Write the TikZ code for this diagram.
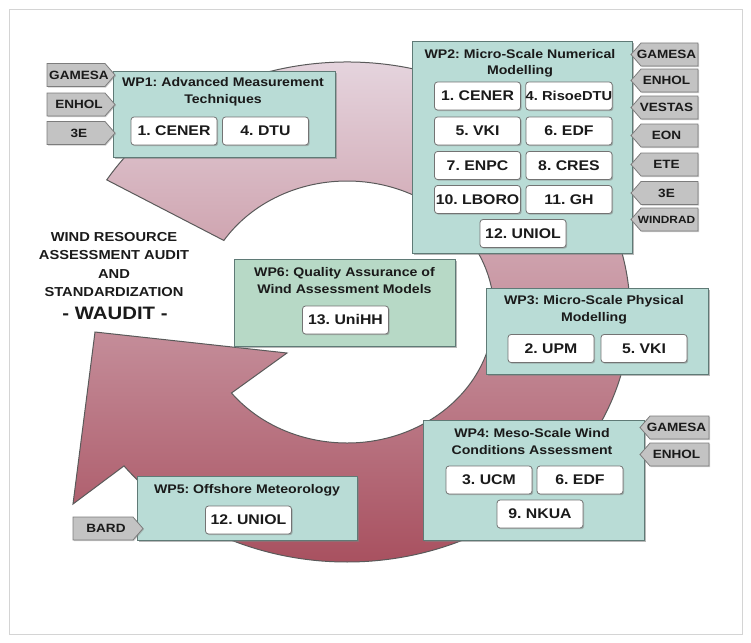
\documentclass[tikz,border=0pt]{standalone}
\usepackage{fontspec}
\setmainfont{Liberation Sans}[FakeStretch=1.13]
\frenchspacing
\usetikzlibrary{shadows,calc}
\definecolor{wpfill}{HTML}{B9DCD6}
\definecolor{wpsixfill}{HTML}{B7D9C6}
\definecolor{wpdraw}{HTML}{5F7A76}
\definecolor{tagfill}{HTML}{C3C3C3}
\definecolor{tagdraw}{HTML}{7C7C7C}
\definecolor{ringtop}{HTML}{E9DDE6}
\definecolor{ringmid}{HTML}{D2A4B3}
\definecolor{ringbot}{HTML}{A8505F}
\definecolor{ringdraw}{HTML}{5A5A5A}
\definecolor{framec}{HTML}{D4D4D4}
\definecolor{txt}{HTML}{1A1A1A}
\tikzset{
  wpbox/.style={draw=wpdraw, fill=wpfill, line width=1pt, inner sep=0pt,
    drop shadow={shadow xshift=1.5pt, shadow yshift=-1.5pt, opacity=0.55}},
  wptitle/.style={font=\bfseries\fontsize{12.5}{16.5}\selectfont, align=center, text=txt, inner sep=0pt},
  partner/.style={draw=black!55, fill=white, rounded corners=3pt, line width=0.8pt,
    minimum width=86pt, minimum height=28pt, inner sep=0pt, text=txt,
    font=\bfseries\fontsize{14}{16}\selectfont,
    drop shadow={shadow xshift=1.2pt, shadow yshift=-1.2pt, opacity=0.5}},
  tagtext/.style={font=\bfseries\fontsize{12}{14}\selectfont, inner sep=0pt, text=txt},
  tagshape/.style={draw=tagdraw, fill=tagfill, line width=0.8pt,
    drop shadow={shadow xshift=1pt, shadow yshift=-1pt, opacity=0.4}},
  ring/.style={draw=ringdraw, line width=1pt, top color=ringtop, middle color=ringmid, bottom color=ringbot},
}
% right-pointing tag: name, x-left, x-tip, y-center, text
\newcommand{\mytagR}[5]{%
  \path[tagshape] (#2,#4-11.5) -- (#3-10,#4-11.5) -- (#3,#4) -- (#3-10,#4+11.5) -- (#2,#4+11.5) -- cycle;
  \node[tagtext] (#1) at ({(#2+#3)/2-2},#4) {#5};}
% left-pointing tag: name, x-tip, x-right, y-center, text
\newcommand{\mytagL}[5]{%
  \path[tagshape] (#2,#4) -- (#2+10,#4-11.5) -- (#3,#4-11.5) -- (#3,#4+11.5) -- (#2+10,#4+11.5) -- cycle;
  \node[tagtext] (#1) at ({(#2+#3)/2+2},#4) {#5};}
\begin{document}
\begin{tikzpicture}[x=1pt,y=-1pt]
\useasboundingbox (0,0) rectangle (751,642);
\draw[framec, line width=1pt] (9,10) rectangle (742,634);

% circular arrow
\coordinate (C) at (347,312);
\path[ring] ($(C)+(211.9:283 and 250)$)
  arc[start angle=211.9, end angle=502, x radius=283, y radius=250]
  -- (73,504) -- (95,332) -- (287,353)
  -- ($(C)+(501.8:147 and 131)$)
  arc[start angle=501.8, end angle=213.1, x radius=147, y radius=131] -- cycle;

% title text
\node[font=\bfseries\fontsize{13}{18.2}\selectfont, align=center, text=txt, inner sep=0pt] (title) at (114,264.5)
  {WIND RESOURCE\\ASSESSMENT AUDIT\\AND\\STANDARDIZATION};
\node[font=\bfseries\fontsize{18}{20}\selectfont, text=txt, inner sep=0pt] (waudit) at (115,313) {- WAUDIT -};

% WP1
\node[wpbox, minimum width=222pt, minimum height=86pt] (wp1) at (224,114) {};
\node[wptitle] (wp1t) at (223,92) {WP1: Advanced Measurement\\Techniques};
\node[partner] (wp1a) at (174,131) {1. CENER};
\node[partner] (wp1b) at (265.5,131) {4. DTU};
\mytagR{t1a}{47}{115}{75}{GAMESA}
\mytagR{t1b}{47}{115}{104.5}{ENHOL}
\mytagR{t1c}{47}{115}{133}{3E}

% WP2
\node[wpbox, minimum width=220pt, minimum height=211pt] (wp2) at (522,147.5) {};
\node[wptitle] (wp2t) at (520,63.5) {WP2: Micro-Scale Numerical\\Modelling};
\node[partner] (wp2a) at (477.5,96) {1. CENER};
\node[partner, font=\bfseries\fontsize{13}{15}\selectfont] (wp2b) at (569,96) {4. RisoeDTU};
\node[partner] (wp2c) at (477.5,131) {5. VKI};
\node[partner] (wp2d) at (569,131) {6. EDF};
\node[partner] (wp2e) at (477.5,165.5) {7. ENPC};
\node[partner] (wp2f) at (569,165.5) {8. CRES};
\node[partner] (wp2g) at (477.5,199.5) {10. LBORO};
\node[partner] (wp2h) at (569,199.5) {11. GH};
\node[partner] (wp2i) at (523,233.5) {12. UNIOL};
\mytagL{t2a}{631}{698}{54.5}{GAMESA}
\mytagL{t2b}{631}{698}{80.5}{ENHOL}
\mytagL{t2c}{631}{698}{107.5}{VESTAS}
\mytagL{t2d}{631}{698}{135.5}{EON}
\mytagL{t2e}{631}{698}{164.5}{ETE}
\mytagL{t2f}{631}{698}{193}{3E}
\mytagL{t2g}{631}{698}{219.5}{\fontsize{10.5}{12}\selectfont WINDRAD}

% WP6
\node[wpbox, fill=wpsixfill, minimum width=221pt, minimum height=87pt] (wp6) at (344.5,302.5) {};
\node[wptitle] (wp6t) at (344.5,280.5) {WP6: Quality Assurance of\\Wind Assessment Models};
\node[partner] (wp6a) at (345.5,320) {13. UniHH};

% WP3
\node[wpbox, minimum width=222pt, minimum height=86pt] (wp3) at (597,331) {};
\node[wptitle] (wp3t) at (594,310) {WP3: Micro-Scale Physical\\Modelling};
\node[partner] (wp3a) at (551,348.5) {2. UPM};
\node[partner] (wp3b) at (644,348.5) {5. VKI};

% WP4
\node[wpbox, minimum width=221pt, minimum height=120pt] (wp4) at (533.5,480) {};
\node[wptitle] (wp4t) at (532,441.5) {WP4: Meso-Scale Wind\\Conditions Assessment};
\node[partner] (wp4a) at (489,480) {3. UCM};
\node[partner] (wp4b) at (580,480) {6. EDF};
\node[partner] (wp4c) at (540,514) {9. NKUA};
\mytagL{t4a}{640}{709}{427.5}{GAMESA}
\mytagL{t4b}{640}{709}{454.5}{ENHOL}

% WP5
\node[wpbox, minimum width=220pt, minimum height=64pt] (wp5) at (247,508) {};
\node[wptitle] (wp5t) at (247,490) {WP5: Offshore Meteorology};
\node[partner] (wp5a) at (248.5,520) {12. UNIOL};
\mytagR{t5a}{73}{143}{528.5}{BARD}
\end{tikzpicture}
\end{document}
